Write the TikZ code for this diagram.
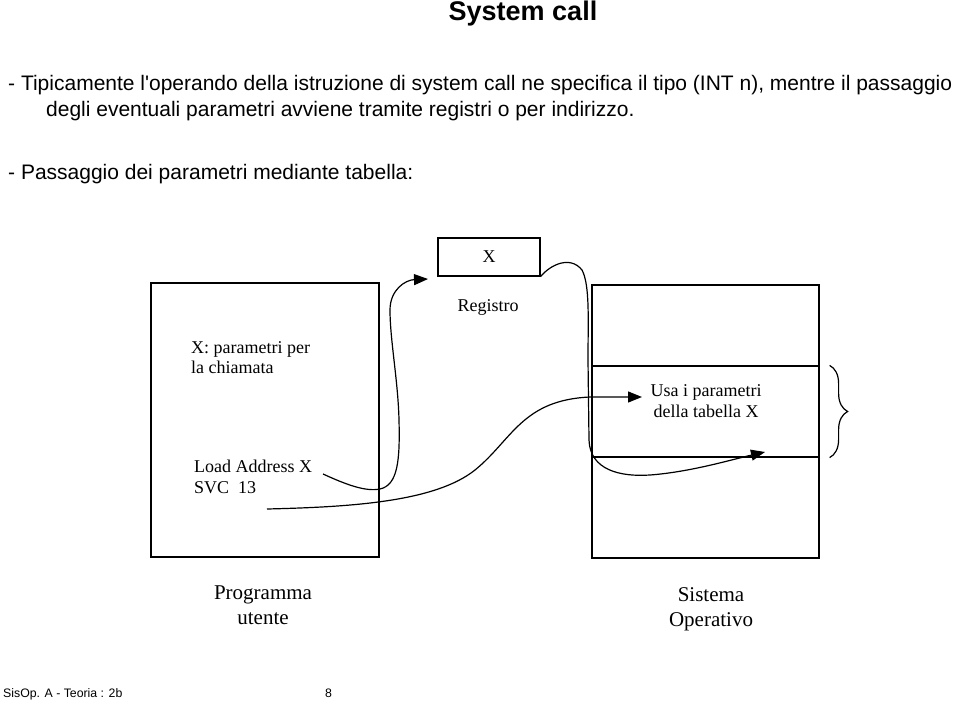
\documentclass[tikz,border=0pt]{standalone}
\usepackage{fontspec}
\setmainfont{Liberation Serif}
\newfontfamily\arial{Liberation Sans}
\usetikzlibrary{arrows.meta,decorations.pathreplacing}
\tikzset{
  box/.style={draw, line width=1.2pt, minimum width=#1, inner sep=0pt},
  lbl/.style={inner sep=0pt, font=\fontsize{18}{20.5}\selectfont, align=left},
  big/.style={inner sep=0pt, font=\fontsize{21}{25}\selectfont, align=center},
  head/.style={inner sep=0pt, anchor=base west, font=\arial\fontsize{21}{24}\selectfont},
  foottxt/.style={inner sep=0pt, anchor=base west, font=\arial\fontsize{12.3}{14}\selectfont},
  conn/.style={line width=1.2pt, -{Triangle[length=14pt,width=11pt]}},
}
\begin{document}
\begin{tikzpicture}[x=1pt,y=-1pt]
\useasboundingbox (0,0) rectangle (960,706);
% header
\node[inner sep=0pt, font=\arial\bfseries\fontsize{27}{30}\selectfont] (title) at (523,14) {System call};
\node[head] (l1) at (8,91) {- Tipicamente l'operando della istruzione di system call ne specifica il tipo (INT n), mentre il passaggio};
\node[head] (l2) at (46,117) {degli eventuali parametri avviene tramite registri o per indirizzo.};
\node[head] (l3) at (8,179) {- Passaggio dei parametri mediante tabella:};
% boxes
\node[box=228pt, minimum height=274pt] (prog) at (265,420) {};
\node[box=102pt, minimum height=38pt, font=\fontsize{18}{20}\selectfont] (reg) at (489,257) {X};
\node[box=227pt, minimum height=81pt] (so1) at (705.5,325.5) {};
\node[box=227pt, minimum height=91pt] (so2) at (705.5,411.5) {};
\node[box=227pt, minimum height=101pt] (so3) at (705.5,507.5) {};
% texts
\node[lbl, anchor=base] (regl) at (488,311) {Registro};
\node[lbl, anchor=north west] (par) at (191,341) {X: parametri per\\la chiamata};
\node[lbl, anchor=north west] (load) at (194,460) {Load Address X\\SVC\ \ 13};
\node[lbl, align=center] (usa) at (706,401) {Usa i parametri\\della tabella X};
\node[big] (pu) at (263,605) {Programma\\utente};
\node[big] (sop) at (711,609) {Sistema\\Operativo};
% brace
\draw[line width=1.2pt, decorate, decoration={brace, amplitude=18pt}] (so2.north east) ++(10,0) coordinate (b1) -- ([xshift=10pt]so2.south east) coordinate (b2);
% connectors
\coordinate (la) at (323,474);
\coordinate (svc) at (267,509);
\coordinate (t1) at (428,279);
\coordinate (t2) at (642,397);
\coordinate (t3) at (765,452);
\draw[conn] (la) .. controls (345,484) and (365,492) .. (380,489)
  .. controls (398,485) and (400,460) .. (399,420)
  .. controls (398,380) and (390,340) .. (390,310)
  .. controls (390,290) and (405,280) .. (t1);
\draw[conn] (svc) .. controls (350,507) and (435,502) .. (475,470)
  .. controls (512,440) and (522,400) .. (590,397) -- (t2);
\draw[conn] (reg.south east) .. controls (550,265) and (570,255) .. (582,270)
  .. controls (590,285) and (588,320) .. (588,360) -- (589,440)
  .. controls (590,470) and (620,477) .. (650,475)
  .. controls (690,472) and (730,460) .. (t3);
% footer
\node[foottxt] (foot) at (3,697) {SisOp. A - Teoria : 2b};
\node[foottxt] (page) at (325,697) {8};
\end{tikzpicture}
\end{document}
